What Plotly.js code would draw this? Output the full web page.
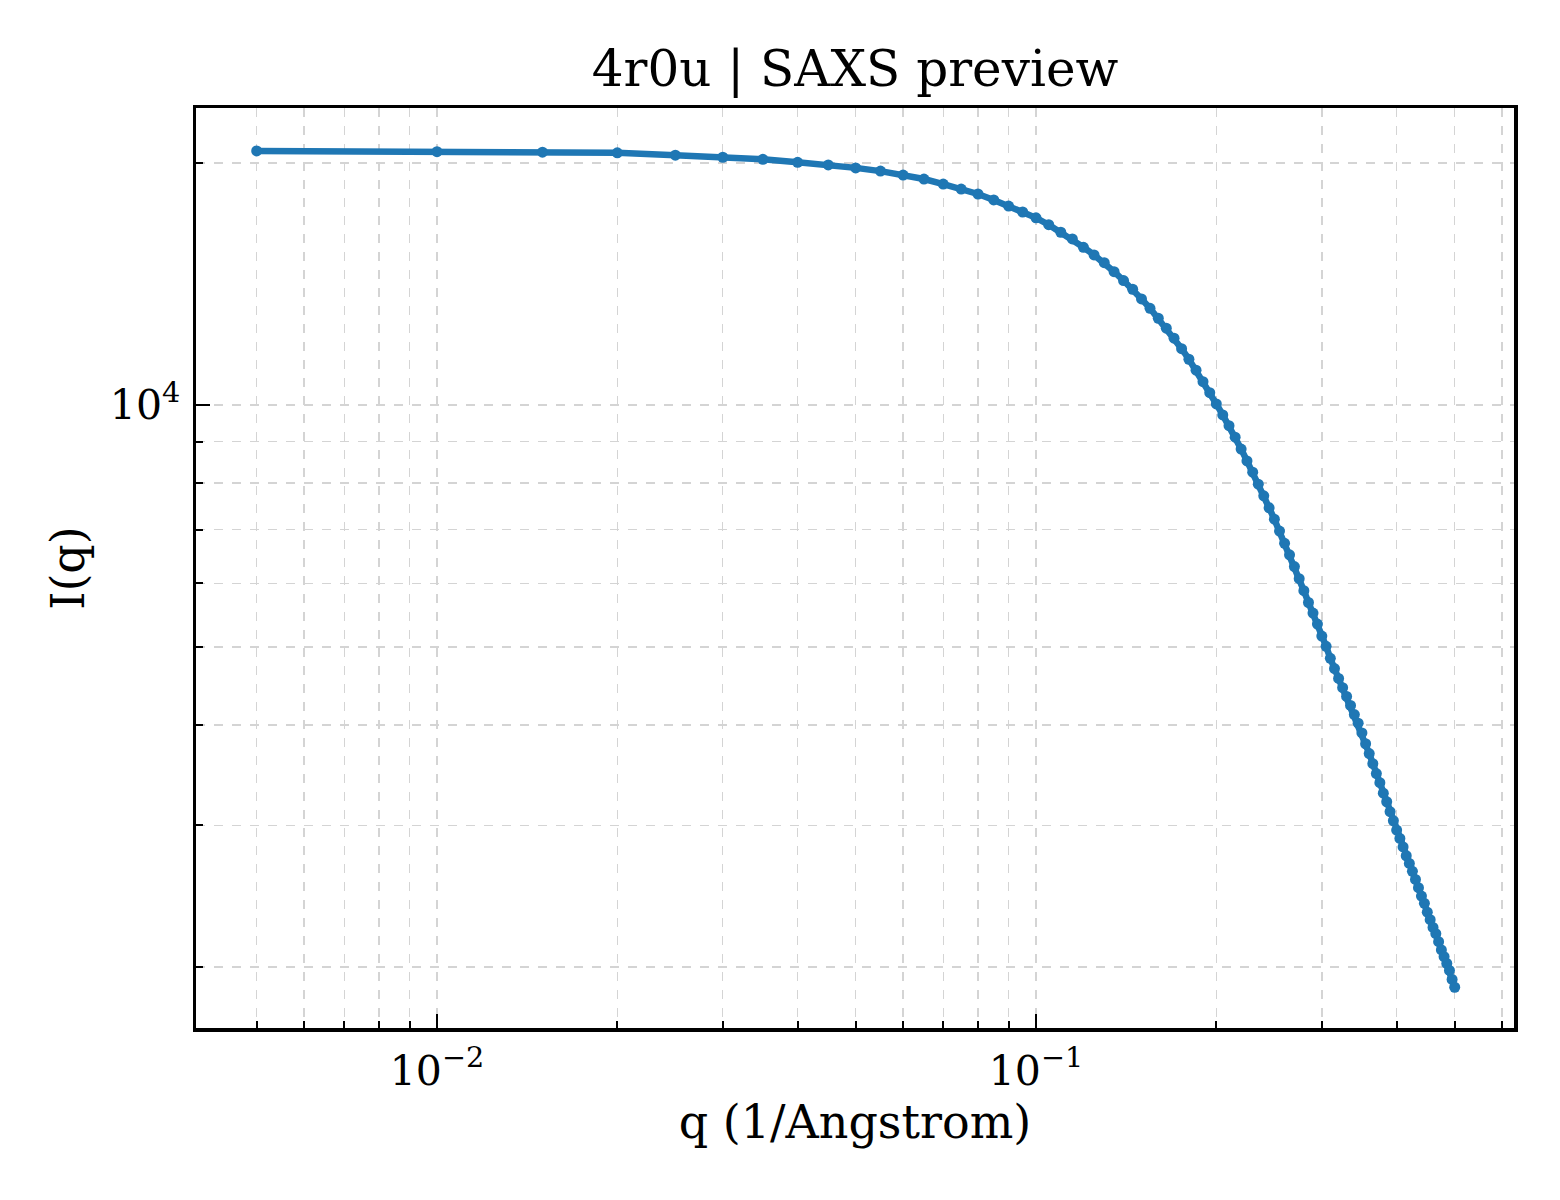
<!DOCTYPE html>
<html>
<head>
<meta charset="utf-8">
<script src="https://cdn.plot.ly/plotly-3.0.1.min.js"></script>
<style>
  html,body{margin:0;padding:0;background:#fff;}
  #chart{width:1560px;height:1200px;}
</style>
</head>
<body>
<div id="chart"></div>
<script>
// scattering vector q (1/Angstrom)
const q = [
  0.005,0.010,0.015,0.020,0.025,0.030,0.035,0.040,0.045,0.050,
  0.055,0.060,0.065,0.070,0.075,0.080,0.085,0.090,0.095,0.100,
  0.105,0.110,0.115,0.120,0.125,0.130,0.135,0.140,0.145,0.150,
  0.155,0.160,0.165,0.170,0.175,0.180,0.185,0.190,0.195,0.200,
  0.205,0.210,0.215,0.220,0.225,0.230,0.235,0.240,0.245,0.250,
  0.255,0.260,0.265,0.270,0.275,0.280,0.285,0.290,0.295,0.300,
  0.305,0.310,0.315,0.320,0.325,0.330,0.335,0.340,0.345,0.350,
  0.355,0.360,0.365,0.370,0.375,0.380,0.385,0.390,0.395,0.400,
  0.405,0.410,0.415,0.420,0.425,0.430,0.435,0.440,0.445,0.450,
  0.455,0.460,0.465,0.470,0.475,0.480,0.485,0.490,0.495,0.500
];
// intensity I(q)
const intensity = [
  20700,20660,20630,20590,20450,20330,20210,20040,19890,19720,
  19540,19320,19100,18830,18560,18300,17990,17680,17380,17090,
  16760,16400,16090,15710,15370,15030,14650,14280,13930,13550,
  13190,12820,12460,12110,11750,11400,11050,10690,10360,10030,
  9720,9425,9120,8815,8520,8250,7970,7710,7450,7210,
  6970,6730,6510,6295,6080,5875,5680,5510,5340,5160,
  5010,4840,4700,4570,4450,4340,4230,4120,4020,3910,
  3790,3685,3580,3480,3390,3290,3210,3120,3040,2960,
  2890,2820,2750,2690,2630,2570,2510,2450,2400,2340,
  2290,2240,2200,2150,2100,2060,2020,1980,1930,1887
];

const xMajor = [0.01, 0.1];
const xMajorText = ["10<sup>\u22122</sup>", "10<sup>\u22121</sup>"];
const xMinor = [0.005,0.006,0.007,0.008,0.009,0.02,0.03,0.04,0.05,0.06,0.07,0.08,0.09,0.2,0.3,0.4,0.5,0.6];
const yMajor = [10000];
const yMajorText = ["10<sup>4</sup>"];
const yMinor = [2000,3000,4000,5000,6000,7000,8000,9000,20000];

const serif = "DejaVu Serif, serif";
const gridCol = "#d4d4d4";

const trace = {
  x: q, y: intensity, type: "scatter", mode: "lines+markers",
  line: {color: "#1f77b4", width: 6.5},
  marker: {color: "#1f77b4", size: 11},
  showlegend: false
};

function axisBase(){
  return {
    type: "log",
    showline: true, linecolor: "#000", linewidth: 3.5, mirror: true,
    ticks: "inside", ticklen: 14, tickwidth: 2.5, tickcolor: "#000",
    showgrid: true, gridcolor: gridCol, gridwidth: 1.4, griddash: "dash",
    zeroline: false,
    tickfont: {family: serif, size: 41, color: "#000"},
    tickmode: "array"
  };
}

const xaxis = Object.assign(axisBase(), {
  range: [Math.log10(0.00396), Math.log10(0.628)],
  tickvals: xMajor, ticktext: xMajorText,
  ticklabelstandoff: 4,
  minor: {tickmode: "array", tickvals: xMinor, ticks: "inside", ticklen: 7, tickwidth: 2,
          tickcolor: "#000", showgrid: true, gridcolor: gridCol, gridwidth: 1.4, griddash: "dash"},
  title: {text: "q (1/Angstrom)", font: {family: serif, size: 46, color: "#000"}, standoff: 12}
});

const yaxis = Object.assign(axisBase(), {
  range: [3.2251, 4.3694],
  tickvals: yMajor, ticktext: yMajorText,
  ticklabelstandoff: 4,
  minor: {tickmode: "array", tickvals: yMinor, ticks: "inside", ticklen: 7, tickwidth: 2,
          tickcolor: "#000", showgrid: true, gridcolor: gridCol, gridwidth: 1.4, griddash: "dash"},
  title: {text: "I(q)", font: {family: serif, size: 46, color: "#000"}, standoff: 12}
});

const layout = {
  width: 1560, height: 1200,
  margin: {l: 196, r: 46, t: 108, b: 172},
  paper_bgcolor: "#fff", plot_bgcolor: "#fff",
  title: {text: "4r0u | SAXS preview", font: {family: serif, size: 50, color: "#000"},
          x: 0.5, xref: "paper", y: 1 - 68/1200, yref: "container", yanchor: "middle"},
  xaxis: xaxis, yaxis: yaxis
};

Plotly.newPlot("chart", [trace], layout, {staticPlot: true});
</script>
</body>
</html>
